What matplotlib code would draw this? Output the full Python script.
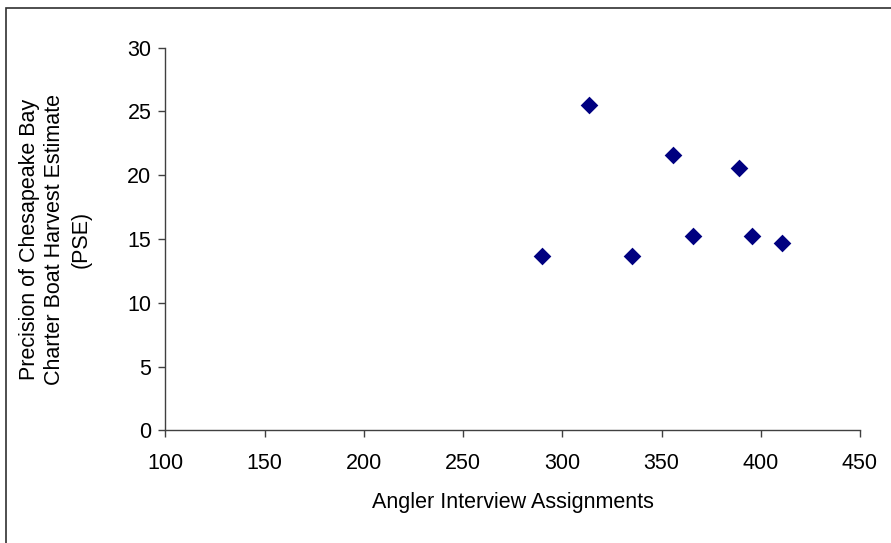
import matplotlib
matplotlib.use("Agg")
import matplotlib.pyplot as plt
from matplotlib.patches import Rectangle

plt.rcParams['font.family'] = ['Liberation Sans', 'DejaVu Sans']

assignments = [290, 313.7, 335, 356, 366, 389, 395.6, 410.7]
pse = [13.67, 25.5, 13.67, 21.57, 15.27, 20.6, 15.27, 14.7]
x_ticks = [100, 150, 200, 250, 300, 350, 400, 450]
y_ticks = [0, 5, 10, 15, 20, 25, 30]

fig = plt.figure(figsize=(8.91, 5.43), dpi=100)
ax = fig.add_axes([0.1855, 0.2072, 0.9652 - 0.1855, 0.9122 - 0.2072])

ax.scatter(assignments, pse, marker='D', s=9**2, color='#000080', edgecolors='#000080', linewidths=0, zorder=3)

ax.set_xlim(100, 450)
ax.set_ylim(0, 30)
ax.set_xticks(x_ticks)
ax.set_yticks(y_ticks)
for s in ['top', 'right']:
    ax.spines[s].set_visible(False)
for s in ['left', 'bottom']:
    ax.spines[s].set_color('#404040')
    ax.spines[s].set_linewidth(1.0)
ax.tick_params(direction='out', length=5, width=1, color='#404040', labelsize=15.5)
ax.tick_params(axis='y', pad=5)
ax.tick_params(axis='x', pad=11)

ax.set_xlabel('Angler Interview Assignments', fontsize=15.5, labelpad=13)
ax.set_ylabel('Precision of Chesapeake Bay\nCharter Boat Harvest Estimate\n(PSE)', fontsize=15.5, labelpad=26, linespacing=1.3)

fig.patches.append(Rectangle((6 / 891, -0.1), 1.2, 1 - 8 / 543 + 0.1, transform=fig.transFigure,
                             fill=False, edgecolor='#303030', linewidth=1.2))

fig.savefig('out.png', dpi=100)
